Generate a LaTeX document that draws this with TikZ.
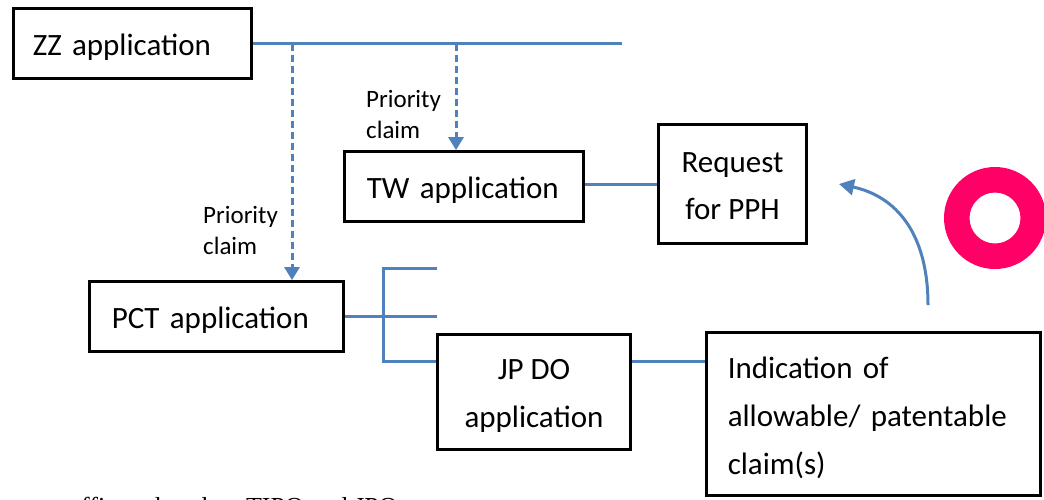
\documentclass[tikz,border=0pt]{standalone}
\usepackage{fontspec}
\setmainfont{Carlito}
\newfontfamily\timesfont{Liberation Serif}
\usetikzlibrary{arrows.meta}
\definecolor{lineblue}{RGB}{79,129,189}
\definecolor{ringpink}{RGB}{255,0,102}
\begin{document}
\begin{tikzpicture}[x=1pt,y=-1pt,
  box/.style={draw=black, line width=3.3pt, inner sep=0pt, rectangle},
  onebox/.style={box, font=\fontsize{31}{38}\selectfont, align=left, text height=29pt, text depth=6pt},
  conn/.style={draw=lineblue, line width=3pt},
  prio/.style={conn, dash pattern=on 7pt off 4pt, -{Triangle[width=15pt,length=13pt]}},
  curvearrow/.style={conn, -{Triangle[width=16pt,length=15pt]}},
  lbl/.style={inner sep=0pt, anchor=north west, align=left, font=\fontsize{25}{31}\selectfont}
]
\useasboundingbox (0,0) rectangle (1044,499);
\clip (0,0) rectangle (1044,499);

% boxes
\node[onebox, minimum width=237.5pt, minimum height=69.5pt, inner xsep=19pt, text width=199.5pt] (zz) at (132.5,43.5) {ZZ application};
\node[onebox, minimum width=253.5pt, minimum height=69.5pt, inner xsep=22pt, text width=209.5pt] (pct) at (216.5,316.5) {PCT application};
\node[onebox, minimum width=238.5pt, minimum height=69.5pt, inner xsep=22pt, text width=194.5pt] (tw) at (464,186.5) {TW application};
\node[box, minimum width=147.5pt, minimum height=118.5pt, align=center, font=\fontsize{31}{47}\selectfont] (req) at (732.5,184) {\rule{0pt}{25pt}Request\\for PPH};
\node[box, minimum width=192.5pt, minimum height=114.5pt, align=center, font=\fontsize{31}{48}\selectfont] (jp) at (534,392) {\rule{0pt}{27pt}JP DO\\application};
\node[box, minimum width=333.5pt, minimum height=162.5pt, inner xsep=21pt, text width=291.5pt, align=left, font=\fontsize{31}{48}\selectfont] (ind) at (873.5,414) {\rule{0pt}{30pt}Indication of\\allowable/ patentable\\claim(s)};

% labels
\node[lbl] (p1) at (203,206) {Priority\\claim};
\node[lbl] (p2) at (366,90) {Priority\\claim};

% coordinates
\coordinate (zzend) at (622,43.5);
\coordinate (b1) at (292,43.5);
\coordinate (b2) at (456,43.5);
\coordinate (brt) at (383,268);
\coordinate (brb) at (383,361);
\coordinate (brtend) at (437,268);
\coordinate (brmend) at (437,316.5);
\coordinate (jy) at (0,361);
\coordinate (ty) at (0,184);
\coordinate (cs) at (928,305);
\coordinate (ce) at (839,184);

% connectors
\draw[conn] (zz.east) -- (zzend);
\draw[prio] (b1) -- (b1 |- pct.north);
\draw[prio] (b2) -- (b2 |- tw.north);
\draw[conn] (ty -| tw.east) -- (ty -| req.west);
\draw[conn] (pct.east) -- (pct.east -| brt);
\draw[conn] (brtend) -- (brt) -- (brb) -- (brb -| jp.west);
\draw[conn] (pct.east -| brt) -- (brmend);
\draw[conn] (jy -| jp.east) -- (jy -| ind.west);
\draw[curvearrow] (cs) .. controls (928,232) and (895,196) .. (ce);

% ring
\fill[ringpink, even odd rule] (995,218) circle[radius=51pt] (995,218) circle[radius=25.5pt];

% cut-off footer text
\node[anchor=base west, inner sep=0pt, font=\timesfont\fontsize{26}{30}\selectfont] (foot) at (68,515) {office other than TIPO and JPO};
\end{tikzpicture}
\end{document}
